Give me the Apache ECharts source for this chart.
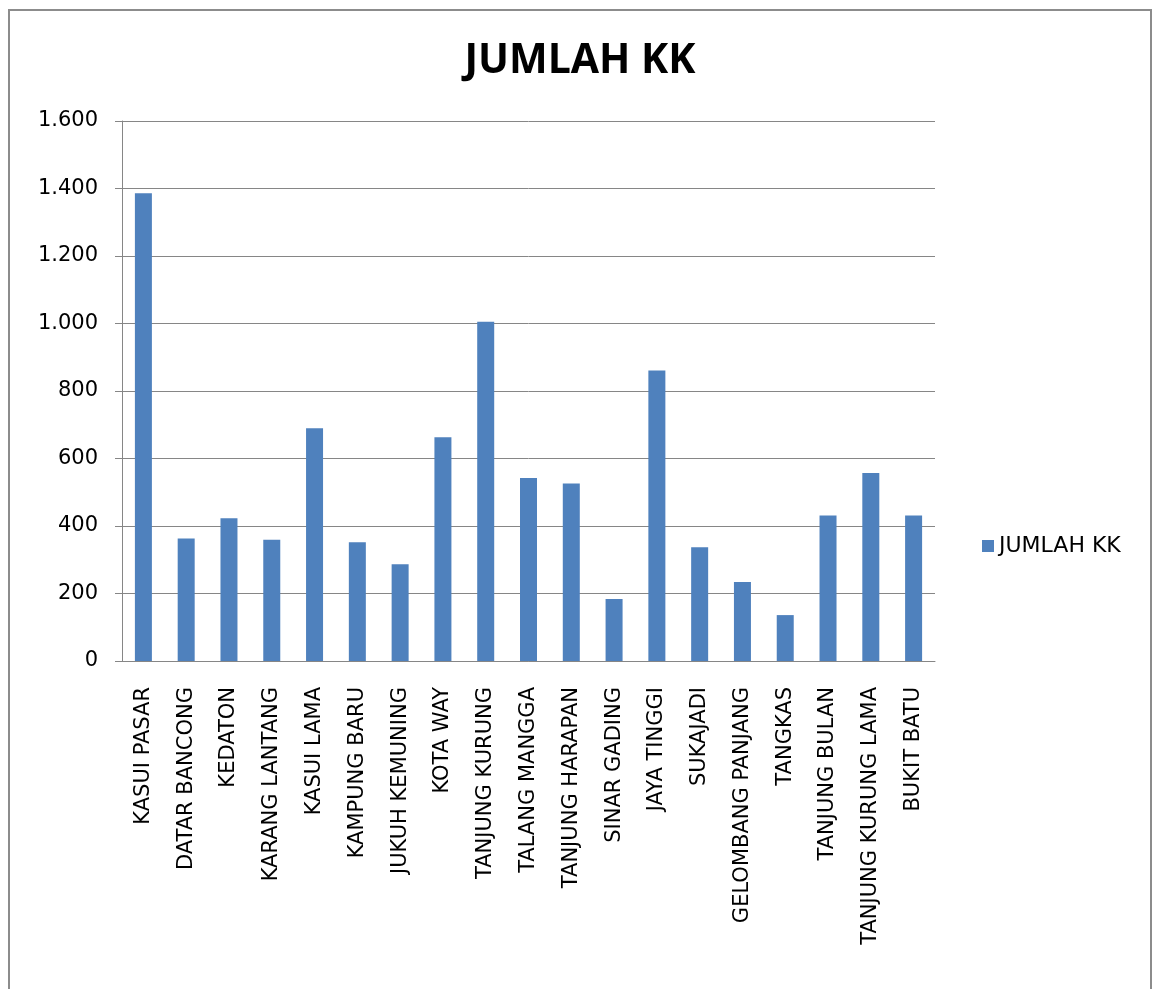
<!DOCTYPE html>
<html>
<head>
<meta charset="utf-8">
<script src="https://cdn.jsdelivr.net/npm/echarts@6/dist/echarts.min.js"></script>
<style>
html,body{margin:0;padding:0;background:#fff;}
#chart{width:1155px;height:989px;}
</style>
</head>
<body>
<div id="chart"></div>
<script>
var desa = ["KASUI PASAR","DATAR BANCONG","KEDATON","KARANG LANTANG","KASUI LAMA","KAMPUNG BARU","JUKUH KEMUNING","KOTA WAY","TANJUNG KURUNG","TALANG MANGGA","TANJUNG HARAPAN","SINAR GADING","JAYA TINGGI","SUKAJADI","GELOMBANG PANJANG","TANGKAS","TANJUNG BULAN","TANJUNG KURUNG LAMA","BUKIT BATU"]
var jumlahKK = [1386,363,423,359,690,352,287,663,1005,542,526,184,861,337,234,136,431,557,431]
var yTicks = [0,200,400,600,800,1000,1200,1400,1600]

var font = "'DejaVu Sans', sans-serif"
var mychart = echarts.init(document.getElementById("chart"))
var option = {
	animation:false,
	color:["#4f81bd"],
	title:{
		text:"JUMLAH KK",
		left:575,
		top:36,
		textAlign:"center",
		textStyle:{
			color:"#000",
			fontSize:41,
			fontWeight:"bold",
			fontFamily:"'Open Sans', sans-serif"
		}
	},
	legend:{
		left:977,
		top:530,
		itemWidth:12,
		itemHeight:12,
		itemGap:8,
		icon:"rect",
		textStyle:{
			color:"#000",
			fontSize:22,
			fontFamily:font
		}
	},
	graphic:[{
		type:"polyline",
		shape:{points:[[9,989],[9,10],[1151,10],[1151,989]]},
		style:{stroke:"#8c8c8c",lineWidth:2,fill:null}
	}],
	grid:{
		left:122,
		right:220,
		top:121,
		bottom:328
	},
	xAxis:{
		type:"category",
		data:desa,
		axisLine:{lineStyle:{color:"#868686"}},
		axisTick:{length:8,lineStyle:{color:"#868686"}},
		axisLabel:{
			rotate:90,
			interval:0,
			margin:26,
			color:"#000",
			fontSize:21,
			fontFamily:font
		}
	},
	yAxis:{
		type:"value",
		min:0,
		max:1600,
		interval:200,
		axisLine:{show:true,lineStyle:{color:"#868686"}},
		axisTick:{show:true,length:7,lineStyle:{color:"#868686"}},
		splitLine:{lineStyle:{color:"#868686"}},
		axisLabel:{
			margin:24,
			color:"#000",
			fontSize:21,
			fontFamily:font,
			formatter:function(v){
				if (yTicks.indexOf(v) < 0) return ""
				return v.toLocaleString("de-DE")
			}
		}
	},
	series:[{
		name:"JUMLAH KK",
		type:"bar",
		barWidth:17,
		data:jumlahKK
	}]
}
mychart.setOption(option)
</script>
</body>
</html>
